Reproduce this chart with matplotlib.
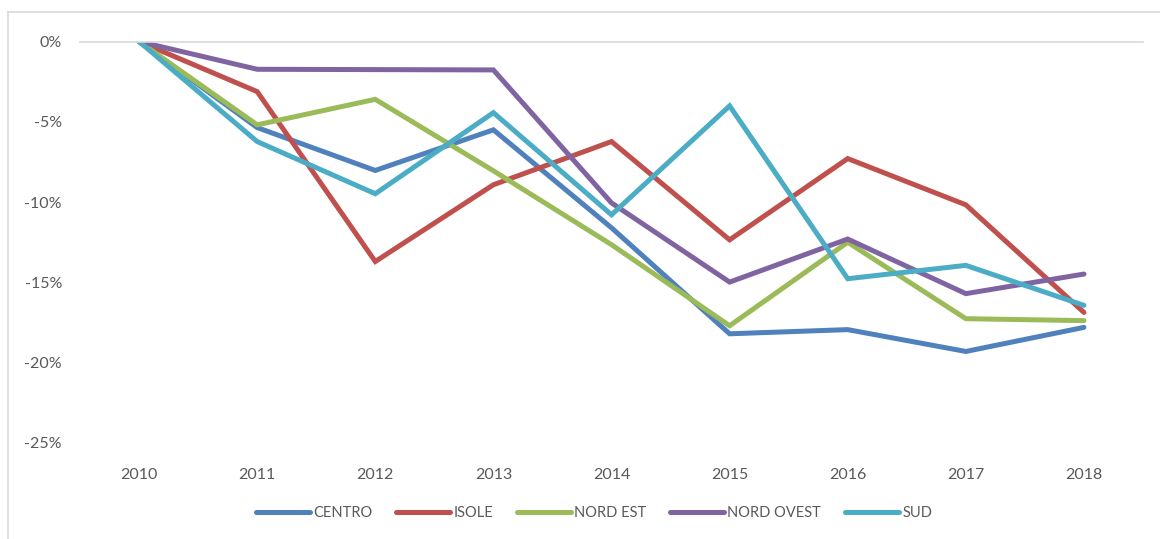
import matplotlib
matplotlib.use('Agg')
import matplotlib.pyplot as plt
from matplotlib.lines import Line2D
from matplotlib.ticker import FuncFormatter

years = ['2010', '2011', '2012', '2013', '2014', '2015', '2016', '2017', '2018']

centro = [0, -5.36, -8.03, -5.5, -11.6, -18.2, -17.94, -19.3, -17.8]
isole = [0, -3.12, -13.7, -8.92, -6.23, -12.35, -7.29, -10.17, -16.87]
nord_est = [0, -5.19, -3.6, -8.05, -12.65, -17.7, -12.5, -17.26, -17.38]
nord_ovest = [0, -1.73, -1.75, -1.77, -10.05, -14.98, -12.3, -15.7, -14.48]
sud = [0, -6.23, -9.48, -4.43, -10.79, -4.01, -14.77, -13.94, -16.43]

series = [('CENTRO', centro, '#4F81BD'),
          ('ISOLE', isole, '#C0504D'),
          ('NORD EST', nord_est, '#9BBB59'),
          ('NORD OVEST', nord_ovest, '#8064A2'),
          ('SUD', sud, '#4BACC6')]

plt.rcParams['font.family'] = ['Lato', 'DejaVu Sans']
txt = '#595959'

W, H = 1160, 539
fig = plt.figure(figsize=(W / 100, H / 100), dpi=100)
ax = fig.add_axes([80 / W, 1 - 443 / H, (1143 - 80) / W, (443 - 41.5) / H])

x = list(range(len(years)))
for name, vals, col in series:
    ax.plot(x, [v / 100 for v in vals], color=col, lw=3.6, label=name,
            solid_capstyle='round', solid_joinstyle='miter')

ax.set_xlim(-0.5, len(years) - 0.5)
ax.set_ylim(-0.25, 0)
ax.set_yticks([0, -0.05, -0.10, -0.15, -0.20, -0.25])
ax.yaxis.set_major_formatter(FuncFormatter(lambda v, p: f'{v * 100:.0f}%'))
ax.set_xticks(x)
ax.set_xticklabels(years)
for s in ['left', 'right', 'bottom']:
    ax.spines[s].set_visible(False)
ax.spines['top'].set_color('#D9D9D9')
ax.spines['top'].set_linewidth(1.2)
ax.tick_params(axis='both', length=0, labelsize=11.5, colors=txt)
ax.tick_params(axis='x', pad=18)
ax.tick_params(axis='y', pad=13)

leg = ax.legend(loc='center', bbox_to_anchor=(594 / W, 1 - 513 / H), bbox_transform=fig.transFigure,
                ncol=5, frameon=False, fontsize=10.5, labelcolor=txt, handlelength=3.7,
                handletextpad=0.25, columnspacing=1.6)
for h in leg.get_lines():
    h.set_solid_capstyle('round')

# outer chart border
fig.add_artist(Line2D([7.5 / W, 1], [1 - 12 / H, 1 - 12 / H], color='#D9D9D9', lw=1.2))
fig.add_artist(Line2D([7.5 / W, 7.5 / W], [0, 1 - 12 / H], color='#D9D9D9', lw=1.2))

fig.savefig('out.png', dpi=100)
